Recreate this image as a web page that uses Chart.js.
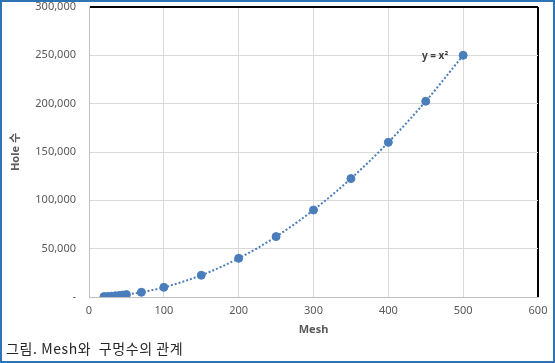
<!DOCTYPE html>
<html><head><meta charset="utf-8">
<script src="https://cdn.jsdelivr.net/npm/chart.js@4/dist/chart.umd.min.js"></script>
<style>
html,body{margin:0;padding:0;background:#fff;}
#frame{position:absolute;left:0;top:0;width:555px;height:363px;box-sizing:border-box;border:2px solid #2e74b5;}
#wrap{position:absolute;left:0;top:0;width:555px;height:363px;}
#cap{position:absolute;left:6px;top:338px;font-family:"Noto Sans CJK KR","Noto Sans",sans-serif;font-size:14px;letter-spacing:0.6px;color:#262626;white-space:pre;line-height:20px;}
</style></head><body>
<div id="wrap"><canvas id="c" width="555" height="363"></canvas></div>
<div id="frame"></div>
<div id="cap">그림. Mesh와  구멍수의 관계</div>
<script>
const mesh  = [20, 25, 30, 35, 40, 45, 50, 70, 100, 150, 200, 250, 300, 350, 400, 450, 500];
const holes = [400, 625, 900, 1225, 1600, 2025, 2500, 4900, 10000, 22500, 40000, 62500, 90000, 122500, 160000, 202500, 250000];
const xTicks = [0, 100, 200, 300, 400, 500, 600];
const yTicks = [0, 50000, 100000, 150000, 200000, 250000, 300000];
const trendLabel = 'y = x²';
const xTitle = 'Mesh';
const yTitle = 'Hole 수';

const pts = mesh.map((m, i) => ({x: m, y: holes[i]}));
const blue = '#4a7ebb';
const font = '"Noto Sans", "Noto Sans CJK KR", sans-serif';

const labelPlugin = {
  id: 'trendLabel',
  afterDatasetsDraw(chart) {
    const {ctx, scales} = chart;
    const last = pts[pts.length - 1];
    const px = scales.x.getPixelForValue(last.x);
    const py = scales.y.getPixelForValue(last.y);
    ctx.save();
    ctx.font = 'bold 10px ' + font;
    ctx.fillStyle = '#404040';
    ctx.textAlign = 'right';
    ctx.textBaseline = 'middle';
    ctx.fillText(trendLabel, px - 15, py + 1);
    ctx.restore();
  }
};

function zeroPad(s) { s.paddingTop = 0; s.paddingBottom = 0; s.paddingLeft = 0; s.paddingRight = 0; }

new Chart(document.getElementById('c'), {
  type: 'scatter',
  data: {
    datasets: [
      {data: pts, backgroundColor: blue, borderColor: blue, pointRadius: 4, pointHoverRadius: 4, order: 2},
      {data: pts, showLine: true, borderColor: blue, borderWidth: 2, borderDash: [2, 2], pointRadius: 0, cubicInterpolationMode: 'monotone', fill: false, order: 1}
    ]
  },
  options: {
    responsive: false,
    animation: false,
    layout: {autoPadding: false, padding: {left: 0, right: 17, top: 7, bottom: 27}},
    plugins: {legend: {display: false}, tooltip: {enabled: false}},
    scales: {
      x: {
        type: 'linear', min: 0, max: 600,
        afterBuildTicks(s) { s.ticks = xTicks.map(v => ({value: v})); },
        afterFit(s) { s.height = 39; zeroPad(s); },
        ticks: {color: '#595959', font: {family: font, size: 11}, padding: 7},
        grid: {
          drawTicks: false,
          color: c => c.tick && c.tick.value === 600 ? '#000' : '#d9d9d9',
          lineWidth: c => c.tick && c.tick.value === 600 ? 2 : 1
        },
        border: {color: '#bfbfbf', width: 1},
        title: {display: true, text: xTitle, color: '#595959', font: {family: font, size: 11, weight: 'bold'}, padding: {top: 2, bottom: 0}}
      },
      y: {
        type: 'linear', min: 0, max: 300000,
        afterBuildTicks(s) { s.ticks = yTicks.map(v => ({value: v})); },
        afterFit(s) { s.width = 89; zeroPad(s); },
        ticks: {
          color: '#595959', font: {family: font, size: 11}, padding: 13,
          callback: v => v === 0 ? '-' : v.toLocaleString('en-US')
        },
        grid: {
          drawTicks: false,
          color: c => c.tick && c.tick.value === 300000 ? '#000' : '#d9d9d9',
          lineWidth: c => c.tick && c.tick.value === 300000 ? 2 : 1
        },
        border: {color: '#bfbfbf', width: 1},
        title: {display: true, text: yTitle, color: '#595959', font: {family: font, size: 11, weight: 'bold'}, padding: {top: 9, bottom: 0}}
      }
    }
  },
  plugins: [labelPlugin]
});
</script>
</body></html>
